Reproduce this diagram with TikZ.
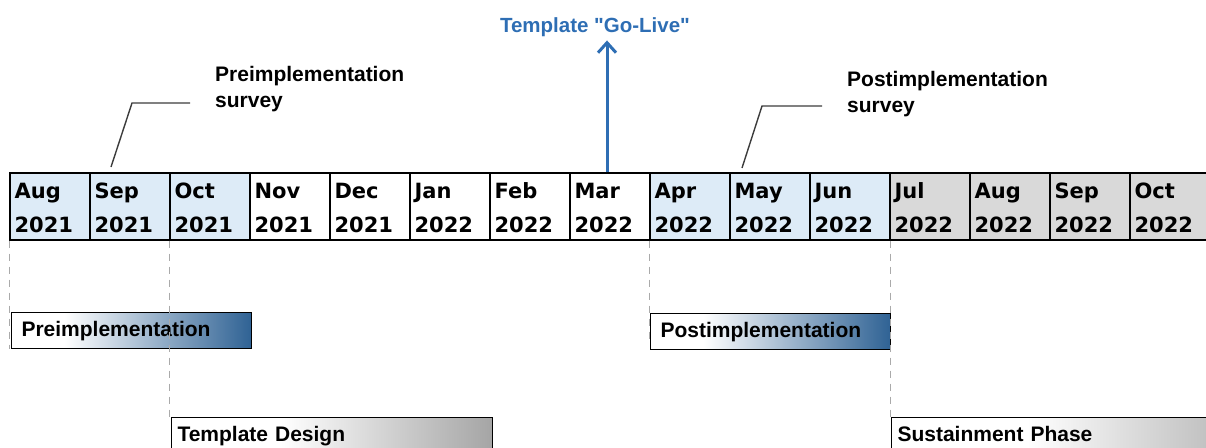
\documentclass[tikz,border=0pt]{standalone}
\usepackage{fontspec}
\setmainfont{Liberation Sans}
\newfontfamily\monthfont{DejaVu Sans}
\newfontfamily\quotefont{Liberation Sans}[Ligatures=TeXOff]
\usepackage{tikz}
\usetikzlibrary{arrows.meta,positioning}

\definecolor{cellBlue}{RGB}{221,235,247}
\definecolor{cellGray}{RGB}{217,217,217}
\definecolor{barBlue}{RGB}{47,98,148}
\definecolor{barGray}{RGB}{165,165,165}
\definecolor{goBlue}{RGB}{46,110,180}
\definecolor{leadGray}{RGB}{60,60,60}
\definecolor{guideGray}{RGB}{170,170,170}
\pgfdeclarehorizontalshading{bluebar}{100bp}{color(0bp)=(white); color(25bp)=(white); color(36bp)=(white); color(75bp)=(barBlue); color(100bp)=(barBlue)}
\pgfdeclarehorizontalshading{graybar}{100bp}{color(0bp)=(white); color(25bp)=(white); color(42bp)=(white); color(75bp)=(barGray); color(100bp)=(barGray)}

\begin{document}
\begin{tikzpicture}[x=1pt,y=-1pt,
  cell/.style={draw=black,line width=1.3pt,minimum width=80,minimum height=67,inner sep=0},
  mon/.style={font=\monthfont\bfseries\fontsize{21}{25}\selectfont,inner sep=0,anchor=base west},
  bar/.style={draw=black,line width=1pt,minimum height=36,text height=15,text depth=4,font=\bfseries\fontsize{21}{25}\selectfont,align=left,anchor=north west},
  note/.style={font=\bfseries\fontsize{21}{26}\selectfont,inner sep=0,align=left,anchor=north west},
  leader/.style={draw=leadGray,line width=1.4pt,shorten >=25pt},
  guide/.style={draw=guideGray,line width=1pt,dash pattern=on 7pt off 6pt}]
\useasboundingbox (0,0) rectangle (1206,447);
\foreach \m/\y/\f [count=\i from 0] in {Aug/2021/cellBlue,Sep/2021/cellBlue,Oct/2021/cellBlue,Nov/2021/white,Dec/2021/white,Jan/2022/white,Feb/2022/white,Mar/2022/white,Apr/2022/cellBlue,May/2022/cellBlue,Jun/2022/cellBlue,Jul/2022/cellGray,Aug/2022/cellGray,Sep/2022/cellGray,Oct/2022/cellGray}
{
  \node[cell,fill=\f] (c\i) at ({50+80*\i},206.5) {};
  \node[mon] (m\i) at ([shift={(5,26)}]c\i.north west) {\m};
  \node[mon] (y\i) at ([shift={(5,60)}]c\i.north west) {\y};
}
\node[bar,shading=bluebar,inner xsep=10,text width=220] (prebar) at (11,312) {Preimplementation};
\node[bar,shading=bluebar,inner xsep=10,text width=220] (postbar) at (650,313) {Postimplementation};
\node[bar,shading=graybar,inner xsep=6,text width=309] (design) at (171,417) {Template Design};
\node[bar,shading=graybar,inner xsep=6,text width=388] (sustain) at (891,417) {Sustainment Phase};
\draw[guide] (c0.south west) -- (c0.south west |- prebar.south);
\draw[guide] (c2.south west) -- (c2.south west |- design.north);
\draw[guide] (c8.south west) -- ([yshift=6]c8.south west |- postbar.south);
\draw[guide] (c10.south east) -- (c10.south east |- sustain.north);
\node[font=\quotefont\bfseries\fontsize{20.5}{24}\selectfont,text=goBlue,inner sep=0,anchor=base] (golive) at (595,32) {Template "Go-Live"};
\draw[goBlue,line width=3pt,-{Straight Barb[length=10pt,width=18pt]},shorten >=4pt] ([xshift=-3]c7.north) -- ([xshift=-3]c7.north |- golive.south);
\node[note] (prenote) at (215,66.5) {Preimplementation\\survey};
\node[note] (postnote) at (847,71) {Postimplementation\\survey};
\coordinate (prefoot) at (111,167);
\coordinate (prebend) at (132,103);
\coordinate (postfoot) at (742,168);
\coordinate (postbend) at (762,106);
\draw[leader] (prefoot) -- (prebend) -- (prebend -| prenote.west);
\draw[leader] (postfoot) -- (postbend) -- (postbend -| postnote.west);
\end{tikzpicture}
\end{document}
